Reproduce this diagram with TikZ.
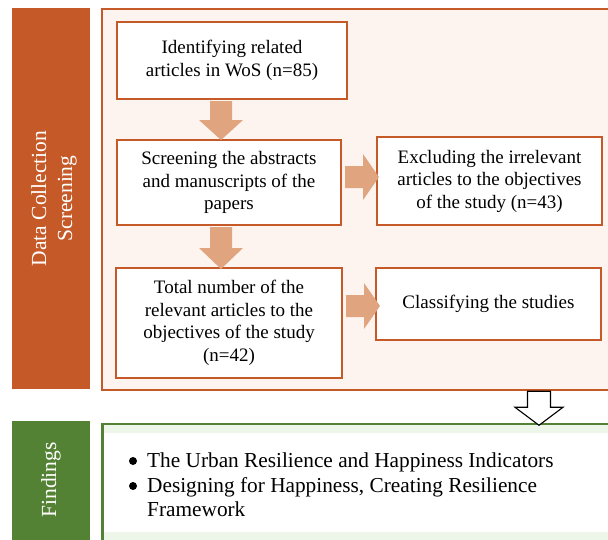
\documentclass[tikz,border=0pt]{standalone}
\usepackage{fontspec}
\setmainfont{Liberation Serif}
\usetikzlibrary{calc}
\definecolor{orng}{HTML}{C55A28}
\definecolor{orngfill}{HTML}{FDF4EF}
\definecolor{arrowfill}{HTML}{E0A47E}
\definecolor{grn}{HTML}{548235}
\definecolor{grnfill}{HTML}{EEF5E9}
\begin{document}
\begin{tikzpicture}[x=1pt,y=-1pt,
  every node/.style={font=\fontsize{19}{22.5}\selectfont},
  stepbox/.style={draw=orng,line width=2pt,fill=white,rectangle,align=center,inner sep=0pt},
  blockarrow/.style={fill=arrowfill,draw=none},
  outarrow/.style={fill=white,draw=black,line width=1.1pt,line join=miter},
  sidebar/.style={rectangle,inner sep=0pt},
  sidetext/.style={rotate=90,text=white,align=center,font=\fontsize{21.5}{26}\selectfont},
  bul/.style={circle,fill=black,inner sep=0pt,minimum size=8pt},
  findtext/.style={anchor=base west,inner sep=0pt,font=\fontsize{21.3}{24.5}\selectfont}
]
\useasboundingbox (0,0) rectangle (608,539);
\clip (0,0) rectangle (608,539);
% section frames
\node[sidebar,fill=orng,minimum width=78pt,minimum height=381pt] (side1) at (51,198.5) {};
\node[sidetext] (side1t) at (54,198.5) {Data Collection\\Screening};
\node[rectangle,draw=orng,line width=2.5pt,fill=orngfill,minimum width=520pt,minimum height=381pt,inner sep=0pt] (frame1) at (362,199.5) {};
\node[sidebar,fill=grn,minimum width=78pt,minimum height=130pt] (side2) at (51,486) {};
\node[sidetext] (side2t) at (51,480) {Findings};
\node[rectangle,draw=grn,line width=2.5pt,fill=grnfill,minimum width=520pt,minimum height=130pt,inner sep=0pt] (frame2) at (362,489) {};
\node[rectangle,fill=white,minimum width=516pt,minimum height=99pt,inner sep=0pt] (inner2) at (362,482.5) {};
\fill[grn] ($(frame2.north west)+(0,0)$) rectangle ($(frame2.south west)+(3,0)$);
% boxes
\node[stepbox,minimum width=230pt,minimum height=77pt] (b1) at (232,60.5) {Identifying related\\articles in WoS (n=85)};
\node[stepbox,minimum width=224pt,minimum height=85pt] (b2) at (229,182.5) {Screening the abstracts\\and manuscripts of the\\papers};
\node[stepbox,minimum width=225pt,minimum height=88pt] (b3) at (489.5,181) {Excluding the irrelevant\\articles to the objectives\\of the study (n=43)};
\node[stepbox,minimum width=226pt,minimum height=110pt] (b4) at (229,323) {Total number of the\\relevant articles to the\\objectives of the study\\(n=42)};
\node[stepbox,minimum width=225pt,minimum height=72pt] (b5) at (488.5,304) {Classifying the studies};
% block arrows (start points tied to nodes)
\coordinate (a1s) at ($(b1.south)+(-11,1)$);
\coordinate (a2s) at ($(b2.south)+(-8,1)$);
\coordinate (a3s) at ($(b2.east)+(3,-5.5)$);
\coordinate (a4s) at ($(b4.east)+(3,-17)$);
\coordinate (a5s) at ($(frame1.south)+(177,0)$);
\fill[blockarrow] (a1s) ++(-11,0) -- ++(22,0) -- ++(0,19) -- ++(11,0) -- ++(-22,20) -- ++(-22,-20) -- ++(11,0) -- cycle;
\fill[blockarrow] (a2s) ++(-11,0) -- ++(22,0) -- ++(0,21) -- ++(11,0) -- ++(-22,21) -- ++(-22,-21) -- ++(11,0) -- cycle;
\fill[blockarrow] (a3s) ++(0,-11) -- ++(18,0) -- ++(0,-12) -- ++(16,23) -- ++(-16,23) -- ++(0,-12) -- ++(-18,0) -- cycle;
\fill[blockarrow] (a4s) ++(0,-11) -- ++(18,0) -- ++(0,-12) -- ++(16,23) -- ++(-16,23) -- ++(0,-12) -- ++(-18,0) -- cycle;
\filldraw[outarrow] (a5s) ++(-11.5,0) -- ++(23,0) -- ++(0,16) -- ++(12.5,0) -- ++(-24,18) -- ++(-24,-18) -- ++(12.5,0) -- cycle;
% findings text
\node[bul] (bul1) at (133,461) {};
\node[bul] (bul2) at (133,486) {};
\node[findtext] (f1) at (147,467.5) {The Urban Resilience and Happiness Indicators};
\node[findtext] (f2) at (147,492.5) {Designing for Happiness, Creating Resilience};
\node[findtext] (f3) at (147,516.5) {Framework};
\end{tikzpicture}
\end{document}
